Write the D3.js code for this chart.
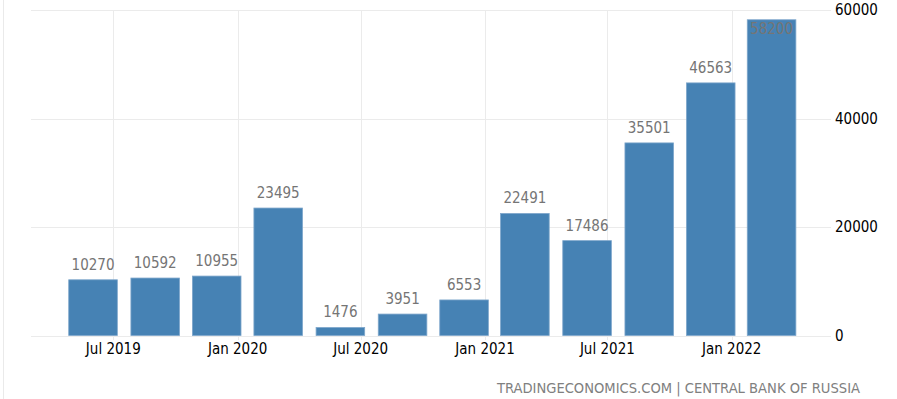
<!DOCTYPE html>
<html>
<head>
<meta charset="utf-8">
<script src="https://d3js.org/d3.v7.min.js"></script>
<style>
  body { margin: 0; background: #fff; }
  svg text { font-family: "DejaVu Sans Condensed", "DejaVu Sans", sans-serif; font-stretch: condensed; }
</style>
</head>
<body>
<script>
// quarterly values (placed at the last month of each quarter)
const dates = ['2019-06-01', '2019-09-01', '2019-12-01', '2020-03-01', '2020-06-01', '2020-09-01',
               '2020-12-01', '2021-03-01', '2021-06-01', '2021-09-01', '2021-12-01', '2022-03-01'];
const values = [10270, 10592, 10955, 23495, 1476, 3951, 6553, 22491, 17486, 35501, 46563, 58200];
const xTicks = ['2019-07-01', '2020-01-01', '2020-07-01', '2021-01-01', '2021-07-01', '2022-01-01'];
const yTicks = [0, 20000, 40000, 60000];

const width = 897, height = 399;
const parse = d3.timeParse('%Y-%m-%d');
const data = dates.map((d, i) => ({date: parse(d), value: values[i]}));

const svg = d3.select('body').append('svg').attr('width', width).attr('height', height);

const x = d3.scaleTime()
    .domain([parse('2019-07-01'), parse('2022-01-01')])
    .range([113.3, 731.7]);
const y = d3.scaleLinear().domain([0, 60000]).range([335.5, 10]);
const barW = 48.6;

// left border
svg.append('line').attr('x1', 3.5).attr('x2', 3.5).attr('y1', 0).attr('y2', height)
    .attr('stroke', '#eaeaea');

// horizontal gridlines
svg.append('g').selectAll('line').data(yTicks).join('line')
    .attr('x1', 31).attr('x2', 831)
    .attr('y1', d => Math.round(y(d)) + 0.5).attr('y2', d => Math.round(y(d)) + 0.5)
    .attr('stroke', '#ebebeb');

// vertical gridlines
svg.append('g').selectAll('line').data(xTicks).join('line')
    .attr('x1', d => Math.round(x(parse(d))) + 0.5).attr('x2', d => Math.round(x(parse(d))) + 0.5)
    .attr('y1', 10).attr('y2', 340)
    .attr('stroke', '#ebebeb');

// bars
svg.append('g').selectAll('rect').data(data).join('rect')
    .attr('x', d => x(d.date) - barW / 2)
    .attr('width', barW)
    .attr('y', d => y(d.value))
    .attr('height', d => y(0) - y(d.value))
    .attr('fill', '#4682b4')
    .attr('stroke', '#7ea6cb')
    .attr('stroke-width', 0.8);

// value labels
svg.append('g').selectAll('text').data(data).join('text')
    .attr('x', d => x(d.date))
    .attr('y', d => y(d.value) - 20 < 0 ? y(d.value) + 14 : y(d.value) - 10)
    .attr('text-anchor', 'middle')
    .attr('font-size', 15)
    .attr('fill', '#757575')
    .text(d => d.value);

// x axis labels
const fmt = d3.timeFormat('%b %Y');
svg.append('g').selectAll('text').data(xTicks).join('text')
    .attr('x', d => x(parse(d)))
    .attr('y', 354)
    .attr('text-anchor', 'middle')
    .attr('font-size', 15)
    .attr('fill', '#000')
    .text(d => fmt(parse(d)));

// y axis labels
svg.append('g').selectAll('text').data(yTicks).join('text')
    .attr('x', 835)
    .attr('y', d => y(d))
    .attr('dy', '0.35em')
    .attr('font-size', 15)
    .attr('fill', '#000')
    .text(d => d);

// source
svg.append('text')
    .attr('x', 860).attr('y', 393)
    .attr('text-anchor', 'end')
    .attr('font-size', 14.6)
    .attr('fill', '#808080')
    .text('TRADINGECONOMICS.COM | CENTRAL BANK OF RUSSIA');
</script>
</body>
</html>
